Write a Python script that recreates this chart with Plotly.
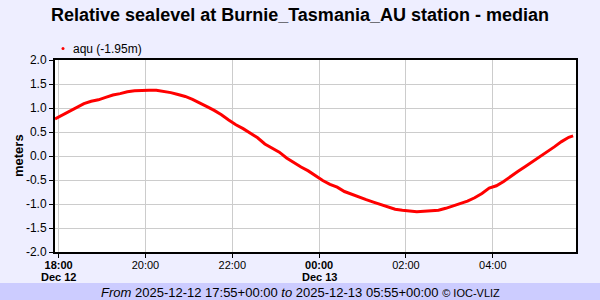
import plotly.graph_objects as go
import pandas as pd

times = list(pd.date_range("2025-12-12 17:55", "2025-12-13 05:45", freq="10min")) + \
        [pd.Timestamp("2025-12-13 05:51")]
values = [0.77, 0.85, 0.94, 1.02, 1.09, 1.14, 1.17, 1.22, 1.27, 1.30,
          1.34, 1.36, 1.37, 1.37, 1.37, 1.35, 1.32, 1.28, 1.24, 1.18,
          1.11, 1.03, 0.95, 0.86, 0.75, 0.65, 0.57, 0.48, 0.38, 0.25,
          0.16, 0.08, -0.04, -0.14, -0.23, -0.31, -0.41, -0.51, -0.59, -0.65,
          -0.74, -0.80, -0.86, -0.91, -0.96, -1.01, -1.05, -1.11, -1.13, -1.15,
          -1.16, -1.15, -1.14, -1.13, -1.09, -1.04, -0.99, -0.94, -0.87, -0.78,
          -0.67, -0.62, -0.53, -0.42, -0.32, -0.22, -0.12, -0.02, 0.08, 0.19,
          0.30, 0.39, 0.42]
series_name = "aqu (-1.95m)"
tick_vals = ["2025-12-12 18:00", "2025-12-12 20:00", "2025-12-12 22:00",
             "2025-12-13 00:00", "2025-12-13 02:00", "2025-12-13 04:00"]
tick_text = ["<b>18:00</b>", "20:00", "22:00", "<b>00:00</b>", "02:00", "04:00"]
date_labels = [("2025-12-12 18:00", "Dec 12"), ("2025-12-13 00:00", "Dec 13")]
y_ticks = [-2.0, -1.5, -1.0, -0.5, 0.0, 0.5, 1.0, 1.5, 2.0]

FONT = "Liberation Sans, Arial, sans-serif"

fig = go.Figure()
fig.add_trace(go.Scatter(x=times, y=values, mode="lines", name=series_name,
                         line=dict(color="#ff0000", width=3),
                         showlegend=False, hoverinfo="skip"))

L, R, T, B = 55, 24, 60, 48
W, H = 600 - L - R, 300 - T - B

def px(x):
    return (x - L) / W

def py(y):
    return (T + H - y) / H

annotations = [
    dict(xref="paper", yref="paper", x=px(300), y=py(292),
         xanchor="center", yanchor="middle", showarrow=False,
         text="<i>From</i> 2025-12-12 17:55+00:00 <i>to</i> 2025-12-13 05:55+00:00 "
              "<span style='font-size:11px'>© IOC-VLIZ</span>",
         font=dict(size=13, family=FONT, color="#000000")),
    dict(xref="paper", yref="paper", x=px(71), y=py(48.5),
         xanchor="left", yanchor="middle", showarrow=False,
         text=series_name, font=dict(size=12, family=FONT, color="#000000")),
    dict(xref="paper", yref="paper", x=px(18), y=py(156),
         xanchor="center", yanchor="middle", showarrow=False, textangle=-90,
         text="<b>meters</b>", font=dict(size=13, family=FONT, color="#000000")),
]
for tv, lab in date_labels:
    annotations.append(dict(xref="x", yref="paper", x=tv, y=py(277),
                            xanchor="center", yanchor="middle", showarrow=False,
                            text="<b>" + lab + "</b>",
                            font=dict(size=11, family=FONT, color="#000000")))

fig.update_layout(
    width=600, height=300,
    margin=dict(l=L, r=R, t=T, b=B),
    paper_bgcolor="#eeeeff",
    plot_bgcolor="#ffffff",
    font=dict(family=FONT, color="#000000", size=12),
    showlegend=False,
    title=dict(text="<b>Relative sealevel at Burnie_Tasmania_AU station - median</b>",
               x=0.5, xanchor="center", y=1 - 15 / 300, yanchor="middle",
               font=dict(size=18, family=FONT, color="#000000")),
    xaxis=dict(range=["2025-12-12 17:55", "2025-12-13 05:55"],
               tickvals=tick_vals, ticktext=tick_text,
               tickfont=dict(size=11, family=FONT),
               ticklabelstandoff=-2,
               showgrid=True, gridcolor="#cccccc", gridwidth=1,
               showline=True, linecolor="#000000", linewidth=2, mirror=True,
               ticks="outside", ticklen=4, tickcolor="#000000",
               zeroline=False),
    yaxis=dict(range=[-2.0, 2.0], tickvals=y_ticks,
               ticktext=[f"{v:.1f}" for v in y_ticks],
               tickfont=dict(size=12, family=FONT),
               showgrid=True, gridcolor="#cccccc", gridwidth=1,
               showline=True, linecolor="#000000", linewidth=2, mirror=True,
               ticks="outside", ticklen=4, tickcolor="#000000",
               zeroline=False),
    shapes=[dict(type="rect", xref="paper", yref="paper",
                 x0=px(-5), x1=px(605), y0=py(305), y1=py(283),
                 fillcolor="#ccccff", line=dict(width=0), layer="below"),
            dict(type="circle", xref="paper", yref="paper",
                 x0=px(61.5), x1=px(64.5), y0=py(50), y1=py(47),
                 fillcolor="#ff0000", line=dict(width=0))],
    annotations=annotations,
)

fig.write_html("out.html")
